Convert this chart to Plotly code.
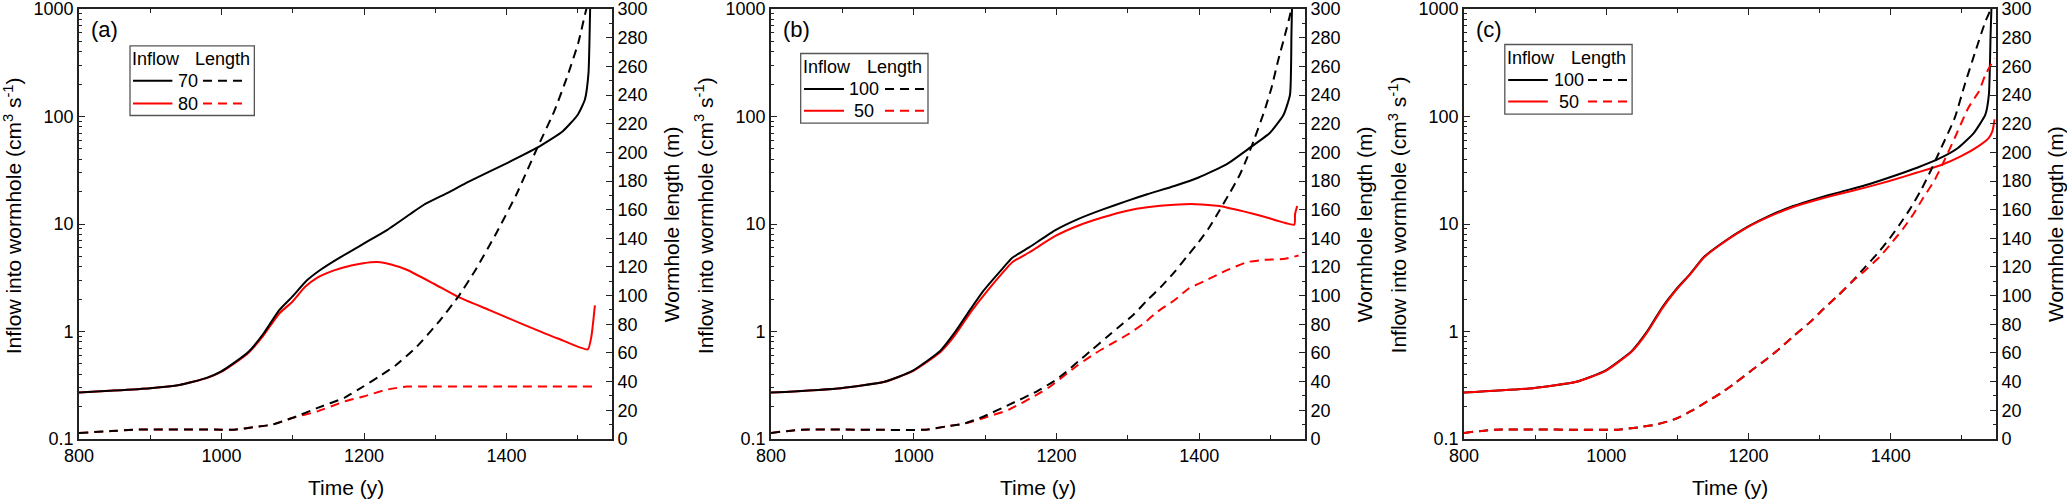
import plotly.graph_objects as go

# ---------------- data ----------------
# panel (a): inflow 70 (black) / 80 (red)
a_in70_t = [800, 849, 900, 941, 960, 980, 999, 1018, 1038, 1059, 1081, 1099, 1120, 1139, 1163, 1199,
            1231, 1265, 1284, 1318, 1347, 1400, 1443, 1479, 1500, 1510, 1515, 1517, 1517.6]
a_in70 = [0.270, 0.282, 0.297, 0.318, 0.340, 0.372, 0.423, 0.513, 0.648, 0.958, 1.58, 2.10, 2.99, 3.75,
          4.74, 6.53, 8.67, 12.4, 15.1, 19.6, 24.8, 36.7, 51.3, 73.1, 104, 144, 253, 800, 1200]
a_in80_t = [800, 849, 900, 941, 960, 980, 999, 1018, 1038, 1059, 1081, 1099, 1117, 1134, 1158, 1182,
            1199, 1219, 1238, 1260, 1298, 1332, 1376, 1424, 1472, 1514, 1519, 1524]
a_in80 = [0.270, 0.282, 0.297, 0.318, 0.340, 0.370, 0.418, 0.505, 0.635, 0.92, 1.47, 1.88, 2.59, 3.16,
          3.70, 4.11, 4.32, 4.42, 4.20, 3.75, 2.78, 2.10, 1.58, 1.16, 0.861, 0.681, 0.893, 1.75]
a_len70_t = [800, 845, 880, 1000, 1018, 1047, 1071, 1099, 1134, 1173, 1199, 1221, 1245, 1274, 1303,
             1332, 1356, 1385, 1414, 1443, 1467, 1486, 1501, 1510, 1513]
a_len70 = [4.2, 5.5, 6.5, 6.5, 6.5, 8.3, 10, 14.6, 21.5, 28.9, 36.6, 43.5, 51.6, 64.4, 80.6,
           99.1, 117.6, 143, 170.8, 203, 228.7, 254, 277, 296, 302]
a_len80_t = [800, 845, 880, 1000, 1018, 1047, 1071, 1099, 1134, 1173, 1199, 1231, 1260, 1279, 1400, 1520]
a_len80 = [4.2, 5.5, 6.5, 6.5, 6.5, 8.3, 10, 14.6, 19.2, 26.2, 29.6, 34.3, 36.6, 36.6, 36.6, 36.6]

# panel (b): inflow 100 (black) / 50 (red)
b_in100_t = [800, 898, 959, 998, 1037, 1058, 1080, 1098, 1124, 1138, 1162, 1199, 1230, 1264, 1299,
             1327, 1365, 1399, 1438, 1471, 1499, 1518, 1527, 1529, 1530]
b_in100 = [0.27, 0.297, 0.34, 0.43, 0.66, 0.99, 1.63, 2.41, 3.83, 4.85, 6.09, 8.81, 11.1, 13.6, 16.4,
           18.9, 22.6, 27.1, 35.9, 51.3, 70.6, 104, 160, 575, 1200]
b_in50_t = [800, 898, 959, 998, 1037, 1058, 1080, 1098, 1124, 1138, 1162, 1199, 1230, 1264, 1299,
            1327, 1365, 1394, 1428, 1462, 1491, 1533, 1534, 1537]
b_in50 = [0.27, 0.297, 0.34, 0.425, 0.64, 0.93, 1.52, 2.17, 3.49, 4.41, 5.46, 7.78, 9.64, 11.5, 13.3,
          14.3, 15.1, 15.3, 14.7, 13.1, 11.7, 9.87, 12.3, 14.7]
b_len100_t = [800, 843, 1017, 1046, 1070, 1098, 1133, 1172, 1199, 1211, 1230, 1249, 1271, 1293, 1307,
              1327, 1346, 1365, 1382, 1399, 1414, 1428, 1443, 1457, 1467, 1476, 1491, 1501, 1510,
              1520, 1527, 1529]
b_len100 = [4.2, 6.5, 6.5, 8.8, 10.6, 15.7, 23.8, 33.1, 41.2, 45.8, 53.9, 62, 71.3, 80.6, 86.3,
            96.8, 106, 116.4, 126.9, 137.3, 147.7, 159.3, 172, 184.7, 196.3, 207.9, 228.7, 244.9, 263.4,
            282, 295.8, 302]
b_len50_t = [800, 843, 1017, 1046, 1070, 1098, 1133, 1172, 1191, 1215, 1230, 1254, 1278, 1302, 1322,
             1341, 1365, 1385, 1409, 1438, 1467, 1491, 1520, 1539]
b_len50 = [4.2, 6.5, 6.5, 8.8, 10.6, 14.6, 20.4, 30.8, 36.6, 45.8, 51.6, 59.7, 66.7, 73.6, 80.6,
           88.7, 96.8, 104.9, 110.6, 117.6, 123.4, 125, 125.7, 128]

# panel (c): inflow 100 (black) / 50 (red)
c_in100_t = [800, 897, 958, 998, 1036, 1057, 1079, 1097, 1118, 1137, 1161, 1199, 1229, 1263, 1298,
             1326, 1364, 1398, 1437, 1470, 1495, 1517, 1533, 1538, 1540.4, 1541.4, 1541.8]
c_in100 = [0.27, 0.297, 0.34, 0.43, 0.66, 0.99, 1.69, 2.41, 3.44, 4.91, 6.52, 9.44, 11.9, 14.7, 17.4,
           19.6, 22.9, 27.1, 33.4, 41.2, 51.3, 70.6, 104, 160, 575, 940, 1200]
c_in50_t = [800, 897, 958, 998, 1036, 1057, 1079, 1097, 1118, 1137, 1161, 1199, 1229, 1263, 1298,
            1326, 1364, 1398, 1437, 1470, 1499, 1524, 1538, 1543, 1546]
c_in50 = [0.27, 0.297, 0.34, 0.425, 0.65, 0.97, 1.65, 2.38, 3.40, 4.85, 6.45, 9.35, 11.7, 14.4, 16.9,
          18.9, 21.8, 25.1, 30.1, 35.2, 42.8, 53.4, 63.3, 73.1, 94]
c_len100_t = [800, 843, 1017, 1045, 1070, 1097, 1123, 1142, 1161, 1181, 1205, 1224, 1244, 1265, 1287,
              1306, 1326, 1345, 1364, 1381, 1398, 1413, 1427, 1442, 1456, 1471, 1490, 1504, 1519,
              1533, 1539, 1541]
c_len100 = [4.2, 6.5, 6.5, 8.1, 10, 13.9, 20.4, 26.2, 31.9, 38.9, 48.1, 55.1, 63.2, 72.5, 81.7,
            91, 100.2, 109.5, 119.9, 129.2, 139.6, 150, 160.4, 173.1, 187, 203.2, 224, 247.2, 270.4,
            291.2, 298.1, 303]
c_len50_t = [800, 843, 1017, 1045, 1070, 1097, 1123, 1142, 1161, 1181, 1205, 1224, 1244, 1265, 1287,
             1306, 1326, 1345, 1364, 1384, 1400, 1417, 1432, 1446, 1461, 1475, 1490, 1509, 1524,
             1533, 1546]
c_len50 = [4.2, 6.5, 6.5, 8.1, 10, 13.9, 20.4, 26.2, 31.9, 38.9, 48.1, 55.1, 63.2, 72.5, 81.7,
           91, 100.2, 109.5, 117.6, 126.9, 136.1, 146.5, 157, 168.5, 180, 194, 210, 231, 242.6,
           254, 265.7]

panel_tags = ["(a)", "(b)", "(c)"]
legend_labels = [["70", "80"], ["100", "50"], ["100", "50"]]

x_ticks = [800, 1000, 1200, 1400]
log_ticks = [0.1, 1, 10, 100, 1000]
log_ticktext = ["0.1", "1", "10", "100", "1000"]
len_ticks = list(range(0, 301, 20))

x_title = "Time (y)"
y_left_title = "Inflow into wormhole (cm<sup>3</sup> s<sup>-1</sup>)"
y_right_title = "Wormhole length (m)"

# ---------------- styling ----------------
FONT = "Liberation Sans, Arial, sans-serif"
W, H = 2067, 501
BLACK, RED = "#000000", "#ff0000"
DASH = "9px,6px"
AX = "#222222"

x_domains = [[79 / W, 612 / W], [771 / W, 1305 / W], [1464 / W, 1996 / W]]

# legend geometry in axis-domain units (box x0,x1,y0,y1 / header y / row ys / item x's)
leg_geo = [
    dict(box=[0.0957, 0.329, 0.7523, 0.9144], head=0.884, rows=[0.8333, 0.780],
         hx=[0.1445, 0.270], solid=[0.1013, 0.1752], lab=0.2045, dash=[0.2326, 0.3114]),
    dict(box=[0.0556, 0.294, 0.7345, 0.8965], head=0.866, rows=[0.8141, 0.7632],
         hx=[0.105, 0.2315], solid=[0.0618, 0.1367], lab=0.175, dash=[0.2135, 0.2884]),
    dict(box=[0.0767, 0.316, 0.7553, 0.9174], head=0.8866, rows=[0.835, 0.7847],
         hx=[0.1267, 0.2528], solid=[0.0831, 0.1575], lab=0.1965, dash=[0.2331, 0.3096]),
]

series = [
    (a_in70_t, a_in70, a_len70_t, a_len70, a_in80_t, a_in80, a_len80_t, a_len80),
    (b_in100_t, b_in100, b_len100_t, b_len100, b_in50_t, b_in50, b_len50_t, b_len50),
    (c_in100_t, c_in100, c_len100_t, c_len100, c_in50_t, c_in50, c_len50_t, c_len50),
]

log_minor = [k * 10.0 ** e for e in range(-1, 3) for k in range(2, 10)]

fig = go.Figure()
layout = dict(
    width=W, height=H,
    margin=dict(l=0, r=0, t=9, b=62, autoexpand=False),
    paper_bgcolor="white", plot_bgcolor="white",
    font=dict(family=FONT, color="black", size=18),
    showlegend=False,
)
shapes, annotations = [], []

for i in range(3):
    n = i + 1
    xk = "x" if n == 1 else f"x{n}"
    yl = 2 * i + 1
    yr = 2 * i + 2
    ylk = "y" if yl == 1 else f"y{yl}"
    yrk = f"y{yr}"
    xname = "xaxis" if n == 1 else f"xaxis{n}"
    ylname = "yaxis" if yl == 1 else f"yaxis{yl}"
    yrname = f"yaxis{yr}"

    layout[xname] = dict(
        domain=x_domains[i], anchor=ylk, range=[800, 1548],
        tickvals=x_ticks, ticks="inside", ticklen=6, tickwidth=1.3, tickcolor=AX,
        minor=dict(dtick=100, ticks="inside", ticklen=4, tickwidth=1.2, tickcolor=AX),
        showline=True, linewidth=1.6, linecolor=AX, mirror="ticks",
        showgrid=False, zeroline=False, tickfont=dict(size=18), automargin=False,
        ticklabeloverflow="allow",
    )
    layout[ylname] = dict(
        type="log", range=[-1.0004, 3.0004], domain=[0, 1], anchor=xk,
        tickvals=log_ticks, ticktext=log_ticktext,
        ticks="inside", ticklen=6, tickwidth=1.3, tickcolor=AX,
        minor=dict(tickvals=log_minor, ticks="inside", ticklen=3.5, tickwidth=1.2, tickcolor=AX),
        showline=True, linewidth=1.6, linecolor=AX,
        showgrid=False, zeroline=False, tickfont=dict(size=18), automargin=False,
        ticklabeloverflow="allow",
    )
    layout[yrname] = dict(
        overlaying=ylk, side="right", anchor=xk, range=[-0.03, 300.03],
        tickvals=len_ticks, ticks="inside", ticklen=6, tickwidth=1.3, tickcolor=AX,
        minor=dict(dtick=10, ticks="inside", ticklen=3.5, tickwidth=1.2, tickcolor=AX),
        showline=True, linewidth=1.6, linecolor=AX,
        showgrid=False, zeroline=False, tickfont=dict(size=18), automargin=False,
        ticklabeloverflow="allow",
    )

    bt, bv, blt, blv, rt, rv, rlt, rlv = series[i]
    black_in = go.Scatter(x=bt, y=bv, xaxis=xk, yaxis=ylk, mode="lines",
                          line=dict(color=BLACK, width=2, shape="spline", smoothing=0.5))
    black_len = go.Scatter(x=blt, y=blv, xaxis=xk, yaxis=yrk, mode="lines",
                           line=dict(color=BLACK, width=2, dash=DASH, shape="spline", smoothing=0.5))
    red_in = go.Scatter(x=rt, y=rv, xaxis=xk, yaxis=ylk, mode="lines",
                        line=dict(color=RED, width=2, shape="spline", smoothing=0.5))
    red_len = go.Scatter(x=rlt, y=rlv, xaxis=xk, yaxis=yrk, mode="lines",
                         line=dict(color=RED, width=2, dash=DASH, shape="spline", smoothing=0.5))
    if i < 2:
        order = [red_in, red_len, black_in, black_len]
    else:
        order = [black_in, black_len, red_in, red_len]
    for tr in order:
        fig.add_trace(tr)

    xr, yrf = f"{xk} domain", f"{ylk} domain"

    # axis titles
    annotations.append(dict(text=x_title, x=0.5, y=-0.113, xref=xr, yref=yrf, showarrow=False,
                            font=dict(size=21), xanchor="center", yanchor="middle"))
    annotations.append(dict(text=y_left_title, x=-0.124, y=0.52, xref=xr, yref=yrf,
                            showarrow=False, textangle=-90, font=dict(size=21),
                            xanchor="center", yanchor="middle"))
    annotations.append(dict(text=y_right_title, x=1.111, y=0.5, xref=xr, yref=yrf,
                            showarrow=False, textangle=-90, font=dict(size=21),
                            xanchor="center", yanchor="middle"))

    # panel tag
    annotations.append(dict(text=panel_tags[i], x=0.047, y=0.9525, xref=xr, yref=yrf,
                            showarrow=False, font=dict(size=22),
                            xanchor="center", yanchor="middle"))

    # hand-drawn legend box
    g = leg_geo[i]
    shapes.append(dict(type="rect", xref=xr, yref=yrf, x0=g["box"][0], x1=g["box"][1],
                       y0=g["box"][2], y1=g["box"][3], fillcolor="white",
                       line=dict(color="#555555", width=1.3), layer="above"))
    for txt, hx in zip(["Inflow", "Length"], g["hx"]):
        annotations.append(dict(text=txt, x=hx, y=g["head"], xref=xr, yref=yrf, showarrow=False,
                                font=dict(size=18), xanchor="center", yanchor="middle"))
    for row_y, col, lab in zip(g["rows"], [BLACK, RED], legend_labels[i]):
        shapes.append(dict(type="line", xref=xr, yref=yrf, x0=g["solid"][0], x1=g["solid"][1],
                           y0=row_y, y1=row_y, line=dict(color=col, width=2), layer="above"))
        shapes.append(dict(type="line", xref=xr, yref=yrf, x0=g["dash"][0], x1=g["dash"][1],
                           y0=row_y, y1=row_y, line=dict(color=col, width=2, dash=DASH),
                           layer="above"))
        annotations.append(dict(text=lab, x=g["lab"], y=row_y, xref=xr, yref=yrf, showarrow=False,
                                font=dict(size=18), xanchor="center", yanchor="middle"))

layout["shapes"] = shapes
layout["annotations"] = annotations
fig.update_layout(**layout)

# the page's default 8px body margin would push the figure off the window edges
fig.write_html("out.html", config={"displayModeBar": False},
               post_script="document.body.style.margin = '0';")
